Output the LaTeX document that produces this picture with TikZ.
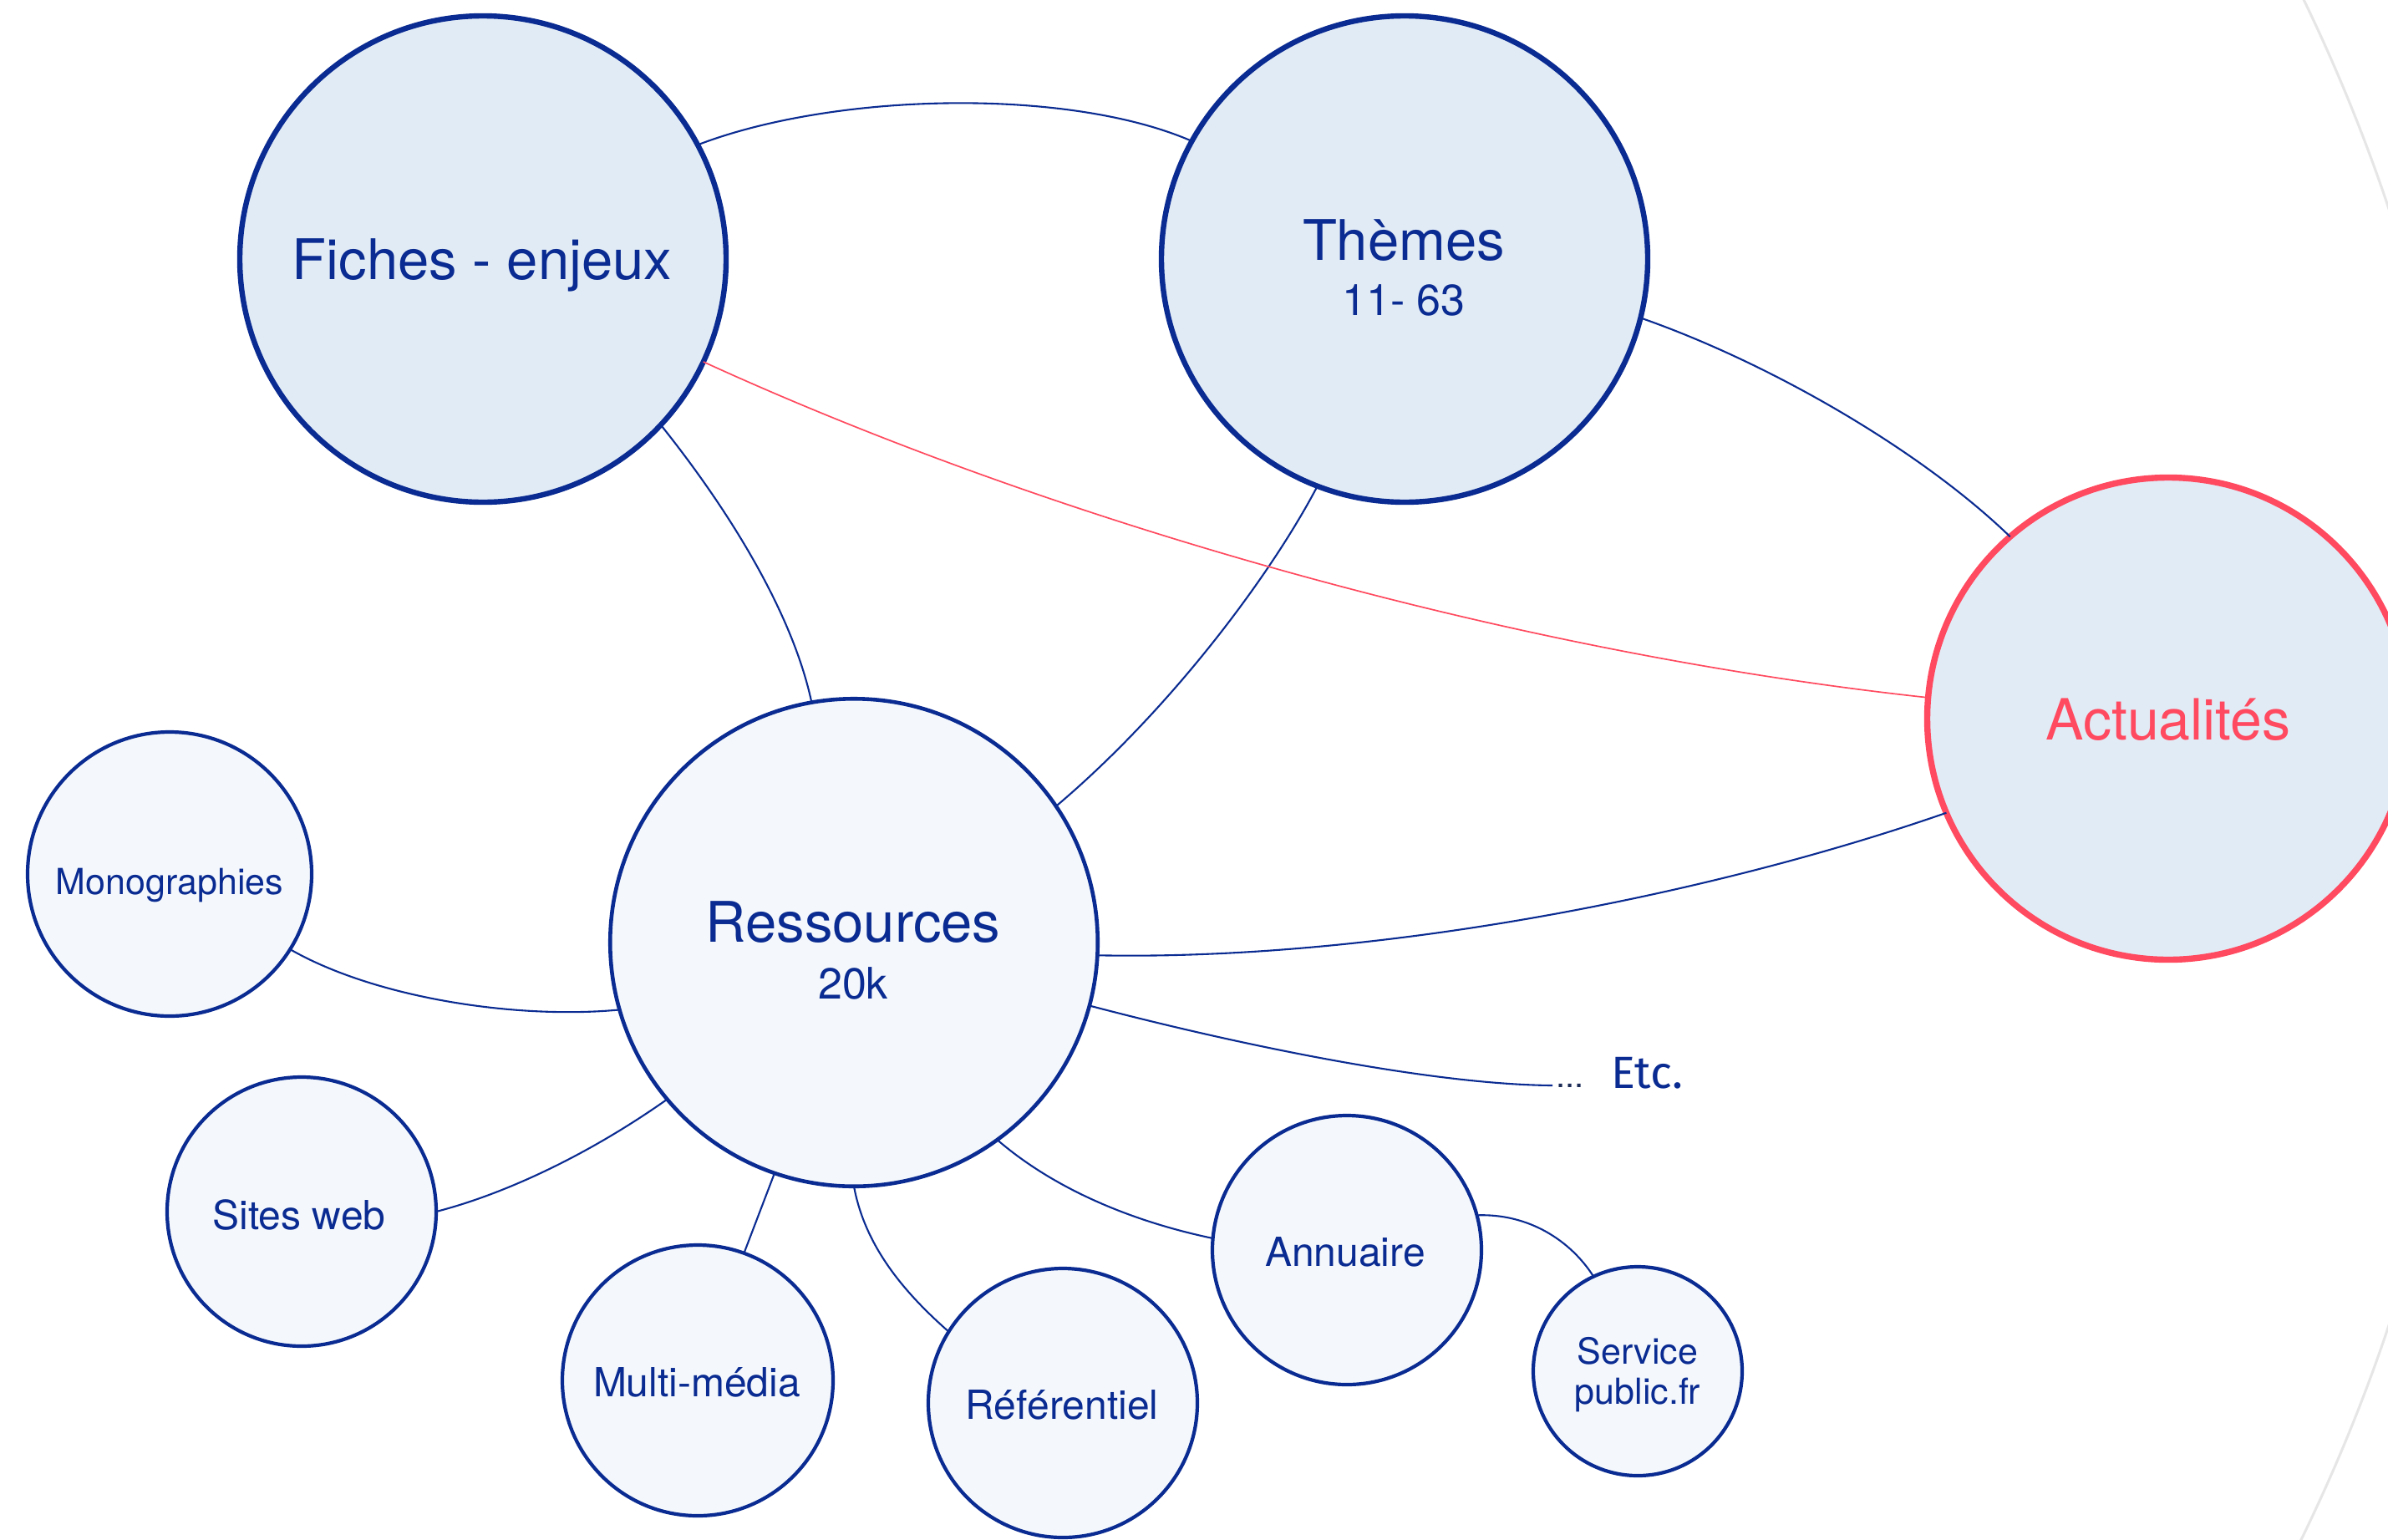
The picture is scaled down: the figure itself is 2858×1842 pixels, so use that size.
\documentclass[tikz,border=0pt]{standalone}
\usepackage{fontspec}
\setmainfont{TeX Gyre Heros}
\newfontfamily\etcfont{Fira Sans}
\definecolor{navy}{HTML}{0A2B91}
\definecolor{bigfill}{HTML}{E1EBF6}
\definecolor{smallfill}{HTML}{F4F8FC}
\definecolor{redc}{HTML}{FF4A5F}
\definecolor{greyarc}{HTML}{E6E6E6}
\definecolor{dotc}{HTML}{1B2B55}
\begin{document}
\begin{tikzpicture}[x=0.5pt,y=-0.5pt,
  bigc/.style={circle, draw=navy, fill=bigfill, line width=3.2pt, inner sep=0pt, outer sep=0pt},
  resc/.style={circle, draw=navy, fill=smallfill, line width=2.3pt, inner sep=0pt, outer sep=0pt},
  smallc/.style={circle, draw=navy, fill=smallfill, line width=2.1pt, inner sep=0pt, outer sep=0pt},
  actc/.style={circle, draw=redc, fill=bigfill, line width=3.7pt, inner sep=0pt, outer sep=0pt},
  link/.style={draw=navy, line width=1.05pt},
  redlink/.style={draw=redc, line width=0.85pt},
  lbl/.style={text=navy, inner sep=0pt, anchor=base},
  bigtxt/.style={lbl, font=\fontsize{33.5pt}{40pt}\selectfont},
  subtxt/.style={lbl, font=\fontsize{26pt}{31pt}\selectfont},
  midtxt/.style={lbl, font=\fontsize{24pt}{29pt}\selectfont},
  smtxt/.style={lbl, font=\fontsize{21.5pt}{26pt}\selectfont}
]
\useasboundingbox (0,0) rectangle (2858,1842);
\clip (0,0) rectangle (2858,1842);
\fill[white] (0,0) rectangle (2858,1842);

% large grey arc
\draw[greyarc, line width=1.5pt] (858,918) circle[radius=2109];

% circles
\node[bigc, minimum size=291pt] (fiches) at (578,310) {};
\node[bigc, minimum size=291pt] (themes) at (1681,310) {};
\node[actc, minimum size=288.5pt] (act) at (2595,860) {};
\node[resc, minimum size=291.75pt] (res) at (1022,1128) {};
\node[smallc, minimum size=170pt] (mono) at (203,1046) {};
\node[smallc, minimum size=161pt] (sites) at (361,1450) {};
\node[smallc, minimum size=162pt] (multi) at (835,1652) {};
\node[smallc, minimum size=161pt] (ref) at (1272,1679) {};
\node[smallc, minimum size=161pt] (ann) at (1612,1496) {};
\node[smallc, minimum size=125pt] (serv) at (1960,1641) {};

% connectors
\draw[link] (fiches.28) .. controls (1000,110) and (1280,105) .. (themes.151);
\draw[link] (fiches.-43) .. controls (880,620) and (950,740) .. (res.100);
\draw[link] (themes.-111) .. controls (1520,690) and (1400,850) .. (res.34);
\draw[link] (themes.-14) .. controls (2120,435) and (2300,540) .. (act.131);
\draw[redlink] (fiches.-25.5) .. controls (1250,620) and (1800,780) .. (act.175);
\draw[link] (res.-3) .. controls (1650,1150) and (2050,1070) .. (act.-157.5);
\coordinate (etcend) at (1858,1299);
\draw[link] (res.-15.5) .. controls (1500,1255) and (1720,1298) .. (etcend);
\draw[link] (res.196) .. controls (620,1220) and (450,1195) .. (mono.-32);
\draw[link] (res.220) .. controls (700,1385) and (600,1430) .. (sites.0);
\draw[link] (res.-109) -- (multi.70);
\draw[link] (res.-90) .. controls (1035,1490) and (1080,1545) .. (ref.148);
\draw[link] (res.-54) .. controls (1270,1430) and (1370,1465) .. (ann.175);
\draw[link] (ann.15) .. controls (1830,1452) and (1880,1485) .. (serv.115);

% labels
\node[bigtxt] (fichesT) at (577,334) {Fiches - enjeux};
\node[bigtxt] (themesT) at (1680,311) {Thèmes};
\node[subtxt] (themesN) at (1680,377) {11- 63};
\node[lbl, text=redc, font=\fontsize{34pt}{40pt}\selectfont] (actT) at (2595,885) {Actualités};
\node[bigtxt] (resT) at (1021,1127) {Ressources};
\node[subtxt] (resN) at (1021,1195) {20k};
\node[smtxt] (monoT) at (203,1070) {Monographies};
\node[midtxt] (sitesT) at (358,1471) {Sites web};
\node[midtxt] (multiT) at (834,1671) {Multi-média};
\node[midtxt] (refT) at (1271,1698) {Référentiel};
\node[midtxt] (annT) at (1610,1515) {Annuaire};
\node[smtxt] (servT) at (1960,1632) {Service};
\node[smtxt] (servT2) at (1960,1680) {public.fr};
\node[inner sep=0pt, anchor=base west, text=dotc, font=\fontsize{20pt}{24pt}\selectfont] (dots) at (1862,1301) {...};
\node[inner sep=0pt, anchor=base west, text=navy, font=\etcfont\fontsize{27pt}{32pt}\selectfont] (etc) at (1928,1302) {Etc.};
\end{tikzpicture}
\end{document}
